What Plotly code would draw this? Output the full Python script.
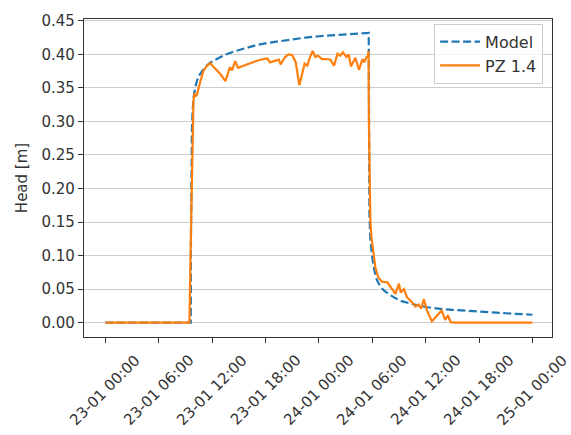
import pandas as pd
import plotly.graph_objects as go

start = pd.Timestamp("2020-01-23 00:00")

# Model (hours since start, head in m)
model_hours = [0, 9.6, 9.62, 9.66, 9.72, 9.8, 9.93, 10.1, 10.3, 10.6, 10.9, 11.3, 11.8,
               12.5, 13.4, 14.4, 15.6, 17.0, 18.2, 19.7, 21.0, 22.5, 24.0, 25.5, 27.2,
               28.5, 29.6, 29.62, 29.68, 29.78, 29.9, 30.05, 30.2, 30.5, 30.9, 31.3,
               31.8, 32.4, 33.3, 34.3, 35.2, 36.2, 37.0, 38.0, 39.0, 40.0, 41.0, 42.0,
               43.0, 44.0, 45.0, 46.0, 47.0, 48.0]
model_head = [0, 0, 0.12, 0.22, 0.28, 0.315, 0.337, 0.350, 0.361, 0.370, 0.376, 0.382,
              0.388, 0.393, 0.399, 0.404, 0.409, 0.414, 0.417, 0.420, 0.423, 0.425,
              0.427, 0.428, 0.4295, 0.431, 0.432, 0.22, 0.16, 0.125, 0.105, 0.092,
              0.080, 0.064, 0.054, 0.048, 0.043, 0.038, 0.032, 0.028, 0.0255, 0.023,
              0.0215, 0.020, 0.019, 0.018, 0.017, 0.0163, 0.0155, 0.0147, 0.014,
              0.0132, 0.0125, 0.0118]

# Observed PZ 1.4
obs_hours = [0, 9.45, 9.6, 9.7, 9.8, 9.9, 10.0, 10.15, 10.3, 10.5, 10.7, 11.05, 11.43,
             11.8, 12.17, 12.9, 13.5, 14.0, 14.24, 14.6, 14.9, 15.9, 17.4, 18.2, 18.5,
             19.5, 19.7, 20.2, 20.6, 21.0, 21.4, 21.8, 22.4, 22.7, 23.0, 23.3, 23.6,
             23.9, 24.35, 24.9, 25.3, 25.7, 26.1, 26.4, 26.7, 27.1, 27.35, 27.6, 28.1,
             28.5, 28.9, 29.1, 29.35, 29.5, 29.58, 29.62, 29.68, 29.78, 29.9, 30.1,
             30.35, 30.7, 31.1, 31.7, 32.2, 32.6, 33.0, 33.2, 33.55, 33.9, 34.5, 34.85,
             35.2, 35.5, 35.8, 36.15, 36.7, 37.2, 37.8, 38.2, 38.5, 38.8, 39.2, 48.0]
obs_head = [0, 0, 0.12, 0.21, 0.28, 0.33, 0.342, 0.338, 0.340, 0.352, 0.361, 0.376,
            0.383, 0.387, 0.381, 0.371, 0.360, 0.381, 0.376, 0.390, 0.380, 0.385, 0.392,
            0.394, 0.388, 0.392, 0.385, 0.396, 0.400, 0.399, 0.388, 0.354, 0.386, 0.383,
            0.396, 0.405, 0.396, 0.398, 0.393, 0.393, 0.392, 0.383, 0.401, 0.398, 0.403,
            0.396, 0.400, 0.382, 0.395, 0.377, 0.393, 0.388, 0.396, 0.396, 0.405, 0.30,
            0.20, 0.155, 0.128, 0.106, 0.082, 0.067, 0.061, 0.060, 0.050, 0.043, 0.058,
            0.045, 0.050, 0.038, 0.030, 0.024, 0.027, 0.021, 0.035, 0.018, 0.002, 0.009,
            0.018, 0.004, 0.011, 0.001, 0.0, 0.0]

tick_hours = [0, 6, 12, 18, 24, 30, 36, 42, 48]
tick_labels = ["23-01 00:00", "23-01 06:00", "23-01 12:00", "23-01 18:00",
               "24-01 00:00", "24-01 06:00", "24-01 12:00", "24-01 18:00",
               "25-01 00:00"]
y_ticks = [0.00, 0.05, 0.10, 0.15, 0.20, 0.25, 0.30, 0.35, 0.40, 0.45]

def to_time(hours):
    return [start + pd.Timedelta(hours=h) for h in hours]

tick_times = to_time(tick_hours)

fig = go.Figure()
fig.add_trace(go.Scatter(x=to_time(model_hours), y=model_head, mode="lines",
                         name="Model",
                         line=dict(color="#1f77b4", width=2.2, dash="8px,3.5px")))
fig.add_trace(go.Scatter(x=to_time(obs_hours), y=obs_head, mode="lines",
                         name="PZ 1.4",
                         line=dict(color="#ff7f0e", width=2.2)))

for t, lab in zip(tick_times, tick_labels):
    fig.add_annotation(x=t, y=0, xref="x", yref="paper", text=lab, showarrow=False,
                       textangle=-45, xanchor="center", yanchor="middle", yshift=-53,
                       font=dict(family="DejaVu Sans", size=15, color="#333333"))

fig.update_layout(
    width=571, height=435,
    margin=dict(l=84, r=19, t=15, b=98),
    paper_bgcolor="white", plot_bgcolor="white",
    font=dict(family="DejaVu Sans", size=15, color="#333333"),
    showlegend=True,
    legend=dict(x=0.981, y=0.985, xanchor="right", yanchor="top",
                bgcolor="rgba(255,255,255,0.8)", bordercolor="#cccccc", borderwidth=1,
                itemwidth=40, font=dict(size=16)),
)
fig.update_xaxes(
    range=[start + pd.Timedelta(hours=-2.4), start + pd.Timedelta(hours=50.2)],
    tickvals=tick_times, ticktext=[""] * len(tick_times), showticklabels=False,
    ticks="outside", ticklen=5, tickwidth=1.2, tickcolor="#333333",
    showgrid=False, showline=True, linecolor="#333333", linewidth=1.3, mirror=True,
    zeroline=False,
)
fig.update_yaxes(
    range=[-0.0214, 0.4527], tickvals=y_ticks, tickformat=".2f",
    ticks="outside", ticklen=5, tickwidth=1.2, tickcolor="#333333",
    showgrid=True, gridcolor="#cccccc", gridwidth=1,
    showline=True, linecolor="#333333", linewidth=1.3, mirror=True, zeroline=False,
    title=dict(text="Head [m]", standoff=10, font=dict(size=15)),
)

fig.write_html("out.html")
